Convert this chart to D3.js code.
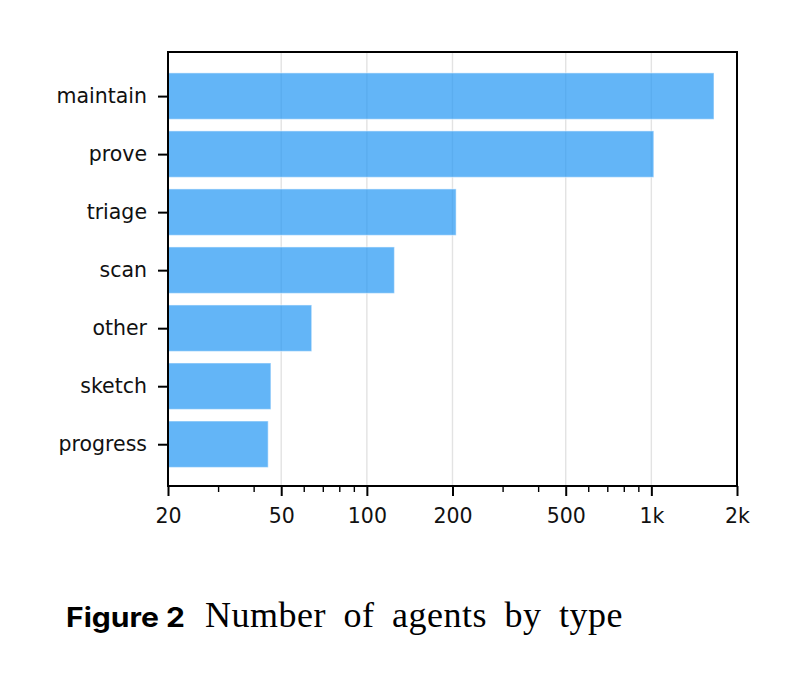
<!DOCTYPE html>
<html>
<head>
<meta charset="utf-8">
<script src="https://cdn.jsdelivr.net/npm/d3@7/dist/d3.min.js"></script>
<style>
  html, body { margin: 0; padding: 0; background: #ffffff; }
  svg { display: block; }
</style>
</head>
<body>
<svg id="chart" width="802" height="674"></svg>
<script>
// ---- data ----
const categories = ["maintain", "prove", "triage", "scan", "other", "sketch", "progress"];
const agentCounts = [1660, 1020, 206, 125, 64, 46, 45];
const majorTicks = [20, 50, 100, 200, 500, 1000, 2000];
const majorTickLabels = ["20", "50", "100", "200", "500", "1k", "2k"];
const minorTicks = [30, 40, 60, 70, 80, 90, 300, 400, 600, 700, 800, 900];
const gridTicks = [50, 100, 200, 500, 1000];
const captionLabel = "Figure 2";
const captionText = "Number of agents by type";

(function () {
// ---- layout ----
const svg = d3.select("#chart");
const pl = 168, pr = 737, pt = 52, pb = 486;

const x = d3.scaleLog().domain([20, 2000]).range([pl, pr]);
const y = d3.scaleLinear().domain([-0.76, categories.length - 1 + 0.72]).range([pt, pb]);
const barH = y(0.4) - y(-0.4);

// grid
svg.append("g").selectAll("line").data(gridTicks).join("line")
  .attr("x1", d => x(d)).attr("x2", d => x(d))
  .attr("y1", pt).attr("y2", pb)
  .attr("stroke", "#e3e3e3").attr("stroke-width", 1.4);

// bars
svg.append("g").selectAll("rect").data(categories).join("rect")
  .attr("x", x(20))
  .attr("y", (d, i) => y(i) - barH / 2)
  .attr("width", (d, i) => x(agentCounts[i]) - x(20))
  .attr("height", barH)
  .attr("fill", "#2196F3").attr("fill-opacity", 0.7)
  .attr("stroke", "#ffffff").attr("stroke-opacity", 0.45).attr("stroke-width", 1.2);

// x axis major
const xAxis = d3.axisBottom(x).tickValues(majorTicks)
  .tickFormat((d, i) => majorTickLabels[i]).tickSize(10).tickPadding(12);
const gx = svg.append("g").attr("transform", `translate(0,${pb})`).call(xAxis);
gx.select(".domain").remove();
gx.selectAll(".tick line").attr("stroke", "#000").attr("stroke-width", 2);
gx.selectAll(".tick text").attr("font-family", "DejaVu Sans").attr("font-size", 20.5).attr("fill", "#111");

// x axis minor
const xMinor = d3.axisBottom(x).tickValues(minorTicks).tickFormat("").tickSize(6);
const gxm = svg.append("g").attr("transform", `translate(0,${pb})`).call(xMinor);
gxm.select(".domain").remove();
gxm.selectAll(".tick line").attr("stroke", "#000").attr("stroke-width", 1.4);

// y axis
const yAxis = d3.axisLeft(y).tickValues(d3.range(categories.length))
  .tickFormat(i => categories[i]).tickSize(10).tickPadding(11);
const gy = svg.append("g").attr("transform", `translate(${pl},0)`).call(yAxis);
gy.select(".domain").remove();
gy.selectAll(".tick line").attr("stroke", "#000").attr("stroke-width", 2);
gy.selectAll(".tick text").attr("font-family", "DejaVu Sans").attr("font-size", 20.5).attr("fill", "#111");

// spines
svg.append("rect")
  .attr("x", pl).attr("y", pt)
  .attr("width", pr - pl).attr("height", pb - pt)
  .attr("fill", "none").attr("stroke", "#000").attr("stroke-width", 2);

// caption
svg.append("text")
  .attr("x", 66).attr("y", 627)
  .attr("font-family", "Inter").attr("font-weight", 700).attr("font-size", 27)
  .attr("textLength", 119).attr("lengthAdjust", "spacingAndGlyphs")
  .attr("fill", "#000").text(captionLabel);
svg.append("text")
  .attr("x", 205).attr("y", 627)
  .attr("font-family", "Liberation Serif").attr("font-size", 36)
  .attr("letter-spacing", 0.5).attr("word-spacing", 8)
  .attr("fill", "#000").text(captionText);
})();
</script>
</body>
</html>
